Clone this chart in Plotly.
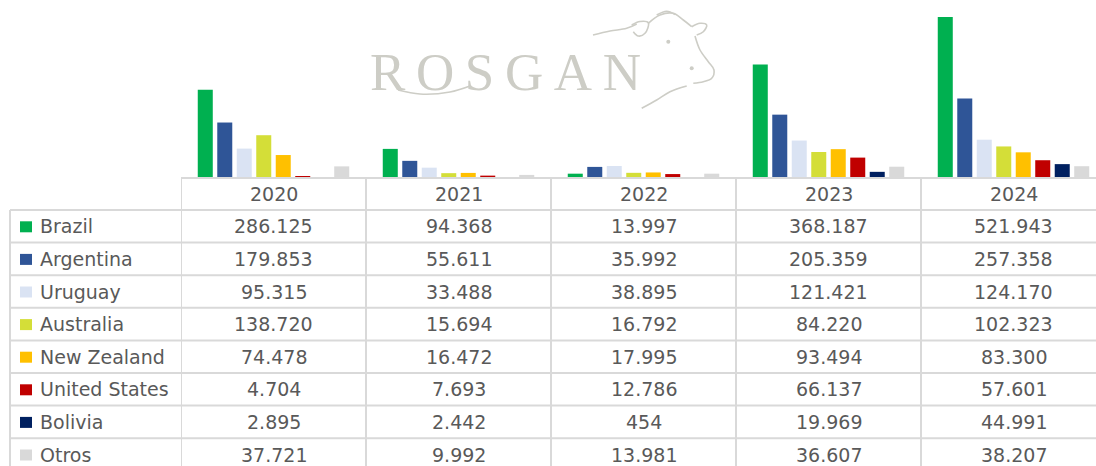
import plotly.graph_objects as go

W, H = 1096, 466

years = ["2020", "2021", "2022", "2023", "2024"]
countries = ["Brazil", "Argentina", "Uruguay", "Australia", "New Zealand",
             "United States", "Bolivia", "Otros"]
colors = ["#00B050", "#2F5597", "#DAE3F3", "#D4DE38", "#FFC000",
          "#C00000", "#002060", "#D9D9D9"]

brazil = [286125, 94368, 13997, 368187, 521943]
argentina = [179853, 55611, 35992, 205359, 257358]
uruguay = [95315, 33488, 38895, 121421, 124170]
australia = [138720, 15694, 16792, 84220, 102323]
new_zealand = [74478, 16472, 17995, 93494, 83300]
united_states = [4704, 7693, 12786, 66137, 57601]
bolivia = [2895, 2442, 454, 19969, 44991]
otros = [37721, 9992, 13981, 36607, 38207]

series = [brazil, argentina, uruguay, australia, new_zealand,
          united_states, bolivia, otros]


def fmt(v):
    return f"{v:,}".replace(",", ".")


def yp(py):
    return 1 - py / H


def xp(px):
    return px / W


FONT = "DejaVu Sans"
TXT = "#595959"
GRID = "#D9D9D9"

# layout geometry (pixels)
base_y = 178          # bar baseline / table top
header_bottom = 210
row_h = 32.6
col_left = 181
col_w = 185
label_left = 10

fig = go.Figure()

for name, vals, col in zip(countries, series, colors):
    fig.add_trace(go.Bar(x=years, y=vals, name=name, marker=dict(color=col, line=dict(width=0)),
                         showlegend=False, hoverinfo="x+y+name"))

shapes = []
annotations = []

# table grid: top line of header
shapes.append(dict(type="line", xref="paper", yref="paper", x0=xp(col_left), x1=1,
                   y0=yp(base_y), y1=yp(base_y), line=dict(color=GRID, width=2)))
# horizontal row lines
for k in range(len(countries)):
    y = header_bottom + row_h * k
    shapes.append(dict(type="line", xref="paper", yref="paper", x0=xp(label_left), x1=1,
                       y0=yp(y), y1=yp(y), line=dict(color=GRID, width=2)))
# vertical column lines (on category boundaries)
for k in range(len(years)):
    shapes.append(dict(type="line", xref="x", yref="paper", x0=k - 0.5, x1=k - 0.5,
                       y0=yp(base_y), y1=0, line=dict(color=GRID, width=2)))
shapes.append(dict(type="line", xref="paper", yref="paper", x0=xp(label_left), x1=xp(label_left),
                   y0=yp(header_bottom), y1=0, line=dict(color=GRID, width=2)))

# header year labels
for j, yr in enumerate(years):
    annotations.append(dict(x=j, y=yp((base_y + header_bottom) / 2), xref="x", yref="paper",
                            text=yr, showarrow=False, xanchor="center", yanchor="middle",
                            font=dict(family=FONT, size=19, color=TXT)))

# rows
for i, (name, vals, col) in enumerate(zip(countries, series, colors)):
    cy = header_bottom + row_h * (i + 0.5)
    shapes.append(dict(type="rect", xref="paper", yref="paper", x0=xp(20), x1=xp(32),
                       y0=yp(cy - 5), y1=yp(cy + 6), fillcolor=col, line=dict(width=0)))
    annotations.append(dict(x=xp(38), y=yp(cy), xref="paper", yref="paper", text=name,
                            showarrow=False, xanchor="left", yanchor="middle",
                            font=dict(family=FONT, size=19, color=TXT)))
    for j, v in enumerate(vals):
        annotations.append(dict(x=j, y=yp(cy), xref="x", yref="paper", text=fmt(v),
                                showarrow=False, xanchor="center", yanchor="middle",
                                font=dict(family=FONT, size=19, color=TXT)))

# ROSGAN watermark
LOGO = "#CDCDC6"
annotations.append(dict(x=xp(505), y=yp(72), xref="paper", yref="paper",
                        text="R\u2009O\u2009S\u2009G\u2009A\u2009N", showarrow=False,
                        xanchor="center", yanchor="middle",
                        font=dict(family="Liberation Serif", size=53, color=LOGO)))

# cow head outline (decorative logo) on a pixel-space helper axis
cow_lines = [
    [(593, 35), (610, 31), (626.7, 28.3), (636.7, 24)],
    [(631.7, 25), (640, 21.5), (648.3, 22.7), (645, 33.3), (638.3, 36), (633.3, 31.7)],
    [(648.3, 23.3), (660, 15), (673.3, 13.3), (683.3, 20), (691.7, 26.7)],
    [(656.7, 15), (666.7, 11.2), (675, 14.5)],
    [(691.7, 26.7), (700, 23.3), (706.7, 25), (703.3, 31.7), (696.7, 35)],
    [(695, 36), (700, 50), (708.3, 61.7), (714, 70), (711.7, 78.3), (703.3, 81.7), (693.3, 83.3)],
    [(686.7, 86), (670, 91.7), (656.7, 100), (641.7, 108.3)],
    [(398, 90), (420, 94), (450, 92), (470, 86)],
]
for pts in cow_lines:
    fig.add_trace(go.Scatter(x=[p[0] for p in pts], y=[p[1] for p in pts], mode="lines",
                             line=dict(color=LOGO, width=1.6, shape="spline"),
                             xaxis="x2", yaxis="y2", showlegend=False, hoverinfo="skip"))
fig.add_trace(go.Scatter(x=[668.3, 691.7], y=[41.7, 68.3], mode="markers",
                         marker=dict(color=LOGO, size=4), xaxis="x2", yaxis="y2",
                         showlegend=False, hoverinfo="skip"))

fig.update_layout(
    width=W, height=H,
    margin=dict(l=0, r=0, t=0, b=0),
    paper_bgcolor="white", plot_bgcolor="rgba(0,0,0,0)",
    barmode="group", bargap=0.157, bargroupgap=0.23,
    xaxis=dict(domain=[xp(col_left), 1], range=[-0.5, -0.5 + (W - col_left) / col_w],
               showticklabels=False, showgrid=False, zeroline=False, showline=False,
               type="category", fixedrange=True),
    yaxis=dict(domain=[yp(base_y), 1], range=[0, 521943 * base_y / 161],
               visible=False, fixedrange=True),
    xaxis2=dict(domain=[0, 1], range=[0, W], visible=False, anchor="y2", fixedrange=True),
    yaxis2=dict(domain=[0, 1], range=[H, 0], visible=False, anchor="x2", fixedrange=True),
    shapes=shapes,
    annotations=annotations,
)

fig.write_html("out.html", config={"displayModeBar": False},
               post_script="document.body.style.margin='0';document.body.style.overflow='hidden';")
